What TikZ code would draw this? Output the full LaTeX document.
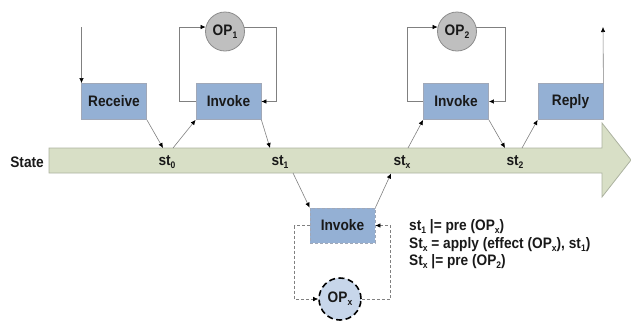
\documentclass[tikz,border=0pt]{standalone}
\usepackage{fontspec}
\setmainfont{Liberation Sans}[FakeStretch=0.9]
\usetikzlibrary{arrows.meta}

% small bold index used in OP_1, st_0 ...
\newcommand\lowidx[1]{\raisebox{-0.35ex}{\fontsize{9.5}{10}\selectfont\bfseries #1}}

\definecolor{boxfill}{RGB}{148,176,212}
\definecolor{boxline}{RGB}{160,168,184}
\definecolor{opfill}{RGB}{191,191,191}
\definecolor{opline}{RGB}{140,140,140}
\definecolor{opxfill}{RGB}{199,214,234}
\definecolor{bandfill}{RGB}{216,223,198}
\definecolor{bandline}{RGB}{172,178,160}
\definecolor{linkgray}{RGB}{128,128,128}
\definecolor{txt}{RGB}{25,25,25}

\tikzset{
  actbox/.style={draw=boxline, line width=0.8pt, fill=boxfill, minimum width=65pt,
    minimum height=36pt, inner sep=0pt, text=txt},
  opnode/.style={circle, draw=opline, line width=0.8pt, fill=opfill, minimum size=39pt,
    inner sep=0pt, text=txt},
  link/.style={draw=linkgray, line width=0.6pt, -{Latex[length=5pt,width=4.5pt,color=black]}},
  dlink/.style={link, dash pattern=on 3pt off 2pt},
  stlabel/.style={text=txt, inner sep=0pt},
}

\begin{document}
\begin{tikzpicture}[x=1pt, y=-1pt, font=\bfseries\fontsize{15.2}{17}\selectfont]
\useasboundingbox (0,0) rectangle (631,322);

% the state arrow
\path[draw=bandline, line width=0.8pt, fill=bandfill]
  (49,148) -- (602,148) -- (602,123) -- (631,160) -- (602,197) -- (602,173) -- (49,173) -- cycle;
\node[stlabel, anchor=east] (state) at (44,162) {State};
\node[stlabel] (st0) at (167,162) {st\lowidx{0}};
\node[stlabel] (st1) at (280,162) {st\lowidx{1}};
\node[stlabel] (stx) at (402,162) {st\lowidx{x}};
\node[stlabel] (st2) at (515,162) {st\lowidx{2}};

% points on the band where the connectors meet it
\coordinate (s0in)  at (163,148);
\coordinate (s0out) at (173,148);
\coordinate (s1in)  at (270,148);
\coordinate (s1out) at (293,173);
\coordinate (sxin)  at (391,173.5);
\coordinate (sxout) at (408,148);
\coordinate (s2in)  at (505,148);
\coordinate (s2out) at (522,148);
\coordinate (inp)   at (81.5,27);
\coordinate (outp)  at (603,27);

% activities
\node[actbox] (recv)  at (114,101.5) {Receive};
\node[actbox] (inv1)  at (228.5,101.5) {Invoke};
\node[actbox] (inv2)  at (456,101.5) {Invoke};
\node[actbox] (reply) at (570.5,101.5) {Reply};
\node[actbox, dash pattern=on 3pt off 2pt, minimum height=35pt] (invx) at (342.5,225.5) {Invoke};

% operations
\node[opnode] (op1) at (225,31.5) {OP\lowidx{1}};
\node[opnode] (op2) at (457,31.5) {OP\lowidx{2}};
\node[opnode, fill=opxfill, draw=black, line width=1.6pt, dash pattern=on 6pt off 3.5pt,
  minimum size=42pt] (opx) at (340,299) {OP\lowidx{x}};

% flow along the state
\draw[link] (inp) -- (inp |- recv.north);
\draw[link] (recv.south east) -- (s0in);
\draw[link] (s0out) -- (inv1.south west);
\draw[link] (inv1.south east) -- (s1in);
\draw[link] (s1out) -- (invx.north west);
\draw[link] (invx.north east) -- (sxin);
\draw[link] (sxout) -- (inv2.south west);
\draw[link] (inv2.south east) -- (s2in);
\draw[link] (s2out) -- (reply.south west);
\draw[link] (reply.north east) -- (outp);

% invoke loops
\draw[link] (inv1.west) -- ++(-16,0) |- (op1.167);
\draw[link] (op1.13) -| ([xshift=15pt]inv1.east) -- (inv1.east);
\draw[link] (inv2.west) -- ++(-16,0) |- (op2.167);
\draw[link] (op2.13) -| ([xshift=16pt]inv2.east) -- (inv2.east);
\draw[dlink] (invx.west) -- ++(-15,0) |- (opx.west);
\draw[dlink] (opx.east) -| ([xshift=15pt]invx.east) -- (invx.east);

% conditions
\node[anchor=west, align=left, text=txt, inner sep=0pt,
  font=\bfseries\fontsize{15.2}{17.5}\selectfont] (cond) at (409,244.5)
  {st\lowidx{1} |= pre (OP\lowidx{x})\\
   St\lowidx{x} = apply (effect (OP\lowidx{x}), st\lowidx{1})\\
   St\lowidx{x} |= pre (OP\lowidx{2})};
\end{tikzpicture}
\end{document}
